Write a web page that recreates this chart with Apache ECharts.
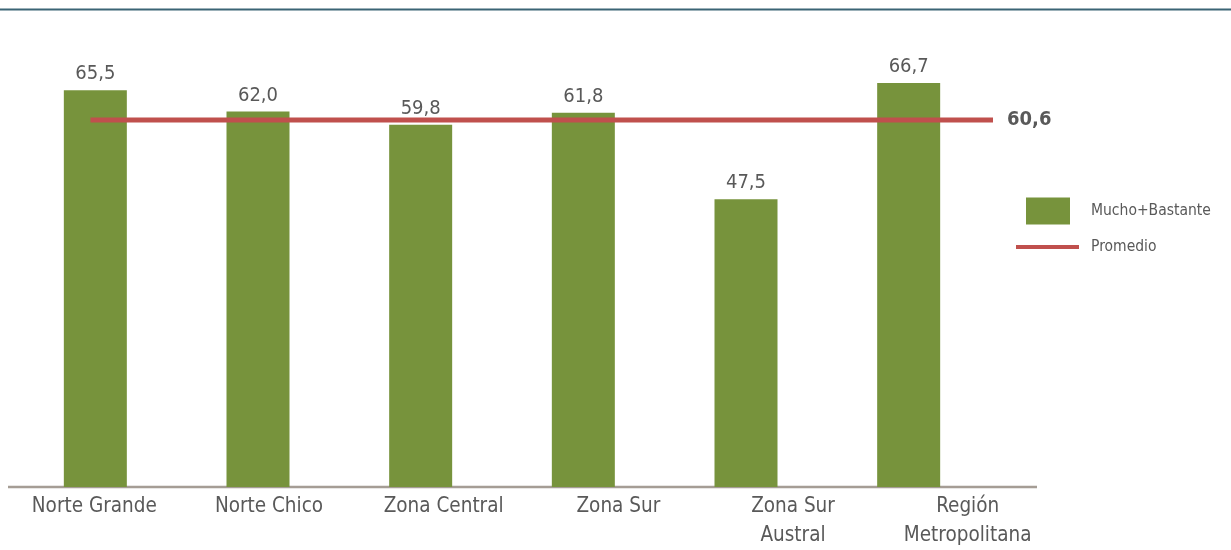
<!DOCTYPE html>
<html>
<head>
<meta charset="utf-8">
<style>
  html, body { margin: 0; padding: 0; background: #fff; }
  #chart { width: 1231px; height: 550px; }
</style>
<script src="https://cdn.jsdelivr.net/npm/echarts@6/dist/echarts.min.js"></script>
</head>
<body>
<div id="chart"></div>
<script>
const categories = ['Norte Grande', 'Norte Chico', 'Zona Central', 'Zona Sur', 'Zona Sur\nAustral', 'Región\nMetropolitana']
const muchoBastante = [65.5, 62.0, 59.8, 61.8, 47.5, 66.7]
const promedio = 60.6
// where the average line starts and stops, in bar-slot units (0..6)
const promedioSpan = [0.47, 6.04]

const fontFamily = "'DejaVu Sans Condensed', 'Liberation Sans', sans-serif"
const textColor = '#595959'
const green = '#77933c'
const red = '#c0504d'

const fmt = v => v.toFixed(1).replace('.', ',')

const chart = echarts.init(document.getElementById('chart'))

chart.setOption({
  animation: false,
  textStyle: { fontFamily },
  grid: [
    { left: 14, width: 976, top: 63, height: 424 }, // bars
    { left: 7, width: 1048, top: 63, height: 424 } // category labels
  ],
  xAxis: [{
    type: 'category',
    gridIndex: 0,
    data: categories,
    axisLine: { show: false },
    axisTick: { show: false },
    axisLabel: { show: false }
  }, {
    type: 'value',
    gridIndex: 0,
    min: 0,
    max: 6,
    show: false
  }, {
    type: 'category',
    gridIndex: 1,
    data: categories,
    axisLine: { show: false },
    axisTick: { show: false },
    axisLabel: {
      interval: 0,
      margin: 9,
      fontSize: 20.5,
      lineHeight: 29,
      color: textColor,
      fontFamily
    }
  }],
  yAxis: [
    { type: 'value', gridIndex: 0, min: 0, max: 70, show: false },
    { type: 'value', gridIndex: 1, min: 0, max: 70, show: false }
  ],
  legend: [{
    data: ['Mucho+Bastante'],
    left: 1026,
    top: 196,
    padding: 0,
    icon: 'rect',
    itemWidth: 44,
    itemHeight: 27,
    textStyle: { fontSize: 15.5, lineHeight: 20, color: textColor, fontFamily, padding: [0, 0, 10, 16] }
  }, {
    data: ['Promedio'],
    left: 1016,
    top: 233,
    padding: 0,
    icon: 'rect',
    itemWidth: 63,
    itemHeight: 4,
    textStyle: { fontSize: 15.5, lineHeight: 20, color: textColor, fontFamily, padding: [0, 0, 8, 7] }
  }],
  graphic: [{
    type: 'line',
    shape: { x1: 0, y1: 9.5, x2: 1231, y2: 9.5 },
    style: { stroke: '#3b6475', lineWidth: 2 }
  }, {
    type: 'line',
    shape: { x1: 8, y1: 487, x2: 1037, y2: 487 },
    style: { stroke: '#a59d95', lineWidth: 2.5 }
  }],
  series: [{
    name: 'Mucho+Bastante',
    type: 'bar',
    xAxisIndex: 0,
    yAxisIndex: 0,
    data: muchoBastante,
    barWidth: 63,
    itemStyle: { color: green },
    label: {
      show: true,
      position: 'top',
      distance: 6,
      fontSize: 20,
      color: textColor,
      fontFamily,
      formatter: p => fmt(p.value)
    }
  }, {
    name: 'Promedio',
    type: 'line',
    xAxisIndex: 1,
    yAxisIndex: 0,
    clip: false,
    symbol: 'none',
    lineStyle: { color: red, width: 5 },
    itemStyle: { color: red },
    endLabel: {
      show: true,
      distance: 14,
      fontSize: 20,
      fontWeight: 'bold',
      color: textColor,
      fontFamily,
      formatter: () => fmt(promedio)
    },
    data: [
      [promedioSpan[0], promedio],
      [promedioSpan[1], promedio]
    ]
  }]
})
</script>
</body>
</html>
